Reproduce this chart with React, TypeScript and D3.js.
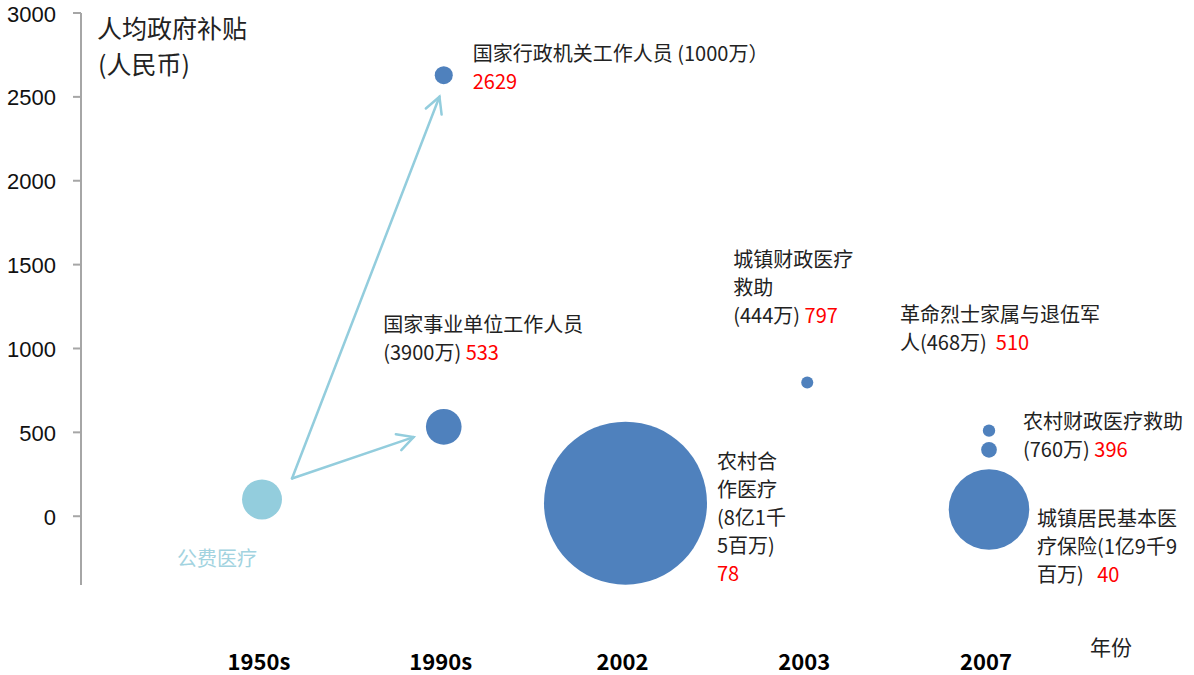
import React from "react";
import * as d3 from "d3";

// ---------- data ----------
const categories = ["1950s", "1990s", "2002", "2003", "2007"];
const yTicks = [0, 500, 1000, 1500, 2000, 2500, 3000];

const bubbleNames = [
  "公费医疗",
  "国家行政机关工作人员",
  "国家事业单位工作人员",
  "农村合作医疗",
  "城镇财政医疗救助",
  "革命烈士家属与退伍军人",
  "农村财政医疗救助",
  "城镇居民基本医疗保险",
];
const bubbleYear = ["1950s", "1990s", "1990s", "2002", "2003", "2007", "2007", "2007"];
// per-capita government subsidy (RMB)
const subsidy = [100, 2629, 533, 78, 797, 510, 396, 40];
// covered population (万人); first one
const population = [4900, 1000, 3900, 81500, 444, 468, 760, 19900];

// annotation text lines: [text, isRed][]
const labelLines: [string, boolean][][][] = [
  [[["公费医疗", false]]],
  [[["国家行政机关工作人员 (1000万）", false]], [["2629", true]]],
  [[["国家事业单位工作人员", false]], [["(3900万) ", false], ["533", true]]],
  [
    [["农村合", false]],
    [["作医疗", false]],
    [["(8亿1千", false]],
    [["5百万)", false]],
    [["78", true]],
  ],
  [[["城镇财政医疗", false]], [["救助", false]], [["(444万) ", false], ["797", true]]],
  [[["革命烈士家属与退伍军", false]], [["人(468万)  ", false], ["510", true]]],
  [[["农村财政医疗救助", false]], [["(760万) ", false], ["396", true]]],
  [
    [["城镇居民基本医", false]],
    [["疗保险(1亿9千9", false]],
    [["百万)   ", false], ["40", true]],
  ],
];

// ---------- layout (label offsets relative to bubble centre, px) ----------
const labelOffsets: [number, number][] = [
  [-85, 58],
  [29, -23],
  [-60.5, -104],
  [91.5, -43],
  [-74, -124.5],
  [-89, -118],
  [34, -30],
  [48, 7.5],
];

const W = 1194;
const H = 675;
const FONT = "'Noto Sans CJK SC', 'Noto Sans', sans-serif";
const TICK_FONT = "'Liberation Sans', Arial, sans-serif";
const BLUE = "#4F81BD";
const LIGHT = "#93CDDD";
const RED = "#FF0000";
const TEXT = "#222222";

export default function App() {
  const x = d3
    .scaleLinear()
    .domain([0, categories.length - 1])
    .range([262, 989]);
  const y = d3.scaleLinear().domain([-410, 3000]).range([585, 13]);
  const r = d3.scaleSqrt().domain([0, 81500]).range([0, 81.5]);

  const bubbles = bubbleNames.map((name, i) => ({
    name,
    cx: x(categories.indexOf(bubbleYear[i])),
    cy: y(subsidy[i]),
    r: r(population[i]),
    light: i === 0,
  }));

  // arrows from 公费医疗 to 1990s bubbles
  const src = bubbles[0];
  const start = { x: src.cx + 30, y: src.cy - 21 };
  const arrows = [1, 2].map((ti) => {
    const t = bubbles[ti];
    const tx = t.cx + (ti === 1 ? 4 : 0);
    const dx = tx - start.x;
    const dy = t.cy - start.y;
    const len = Math.hypot(dx, dy);
    const ux = dx / len;
    const uy = dy / len;
    const gap = t.r + 14;
    const ex = tx - ux * gap;
    const ey = t.cy - uy * gap;
    const ang = Math.atan2(uy, ux);
    const head = 18;
    const spread = (28 * Math.PI) / 180;
    const h1 = {
      x: ex - head * Math.cos(ang - spread),
      y: ey - head * Math.sin(ang - spread),
    };
    const h2 = {
      x: ex - head * Math.cos(ang + spread),
      y: ey - head * Math.sin(ang + spread),
    };
    return { ex, ey, h1, h2 };
  });

  const axisX = 81;

  return (
    <svg
      width={W}
      height={H}
      style={{ position: "absolute", left: 0, top: 0, background: "#fff" }}
      fontFamily={FONT}
    >
      {/* y axis */}
      <line x1={axisX} x2={axisX} y1={y(3000)} y2={585} stroke="#A6A6A6" strokeWidth={2} />
      {yTicks.map((t) => (
        <g key={t}>
          <line x1={axisX - 8} x2={axisX} y1={y(t)} y2={y(t)} stroke="#A6A6A6" strokeWidth={2} />
          <text
            x={56}
            y={y(t) + 8.5}
            textAnchor="end"
            fontFamily={TICK_FONT}
            fontSize={22}
            fill="#111"
          >
            {t}
          </text>
        </g>
      ))}

      {/* axis title */}
      <text x={97} y={27} dominantBaseline="central" fontSize={25} fill={TEXT}>
        人均政府补贴
      </text>
      <text x={98} y={63} dominantBaseline="central" fontSize={25} fill={TEXT}>
        (人民币)
      </text>

      {/* x category labels */}
      {categories.map((c, i) => (
        <text
          key={c}
          x={x(i) - 3}
          y={660}
          textAnchor="middle"
          dominantBaseline="central"
          fontSize={22}
          fontWeight="bold"
          fill="#000"
        >
          {c}
        </text>
      ))}
      <text x={1090} y={646} dominantBaseline="central" fontSize={21} fill={TEXT}>
        年份
      </text>

      {/* arrows */}
      {arrows.map((a, i) => (
        <g key={i} stroke={LIGHT} strokeWidth={2.5} fill="none" strokeLinecap="round">
          <line x1={start.x} y1={start.y} x2={a.ex} y2={a.ey} />
          <polyline points={`${a.h1.x},${a.h1.y} ${a.ex},${a.ey} ${a.h2.x},${a.h2.y}`} />
        </g>
      ))}

      {/* bubbles */}
      {bubbles.map((b) => (
        <circle key={b.name} cx={b.cx} cy={b.cy} r={b.r} fill={b.light ? LIGHT : BLUE} />
      ))}

      {/* labels */}
      {bubbles.map((b, i) => {
        const [dx, dy] = labelOffsets[i];
        return (
          <g key={"l" + i}>
            {labelLines[i].map((line, li) => (
              <text
                key={li}
                x={b.cx + dx}
                y={b.cy + dy + li * 28}
                dominantBaseline="central"
                fontSize={20}
                fill={i === 0 ? "#A2D3E0" : TEXT}
                style={{ whiteSpace: "pre" }}
              >
                {line.map(([s, red], si) => (
                  <tspan key={si} fill={red ? RED : undefined}>
                    {s}
                  </tspan>
                ))}
              </text>
            ))}
          </g>
        );
      })}
    </svg>
  );
}
